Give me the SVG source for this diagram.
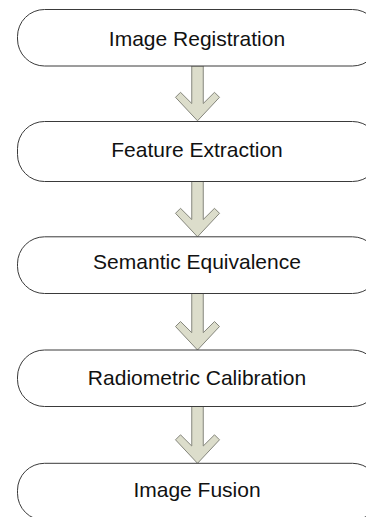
<svg xmlns="http://www.w3.org/2000/svg" width="366" height="517" viewBox="0 0 366 517">
<style>
.box{fill:#ffffff;stroke:#3a3a3a;stroke-width:1}
.lbl{font-family:"Liberation Sans",Arial,sans-serif;font-size:21px;fill:#111111;text-anchor:middle}
.arr{fill:#dcddcb;stroke:#85867c;stroke-width:1;stroke-linejoin:miter}
</style>
<rect width="366" height="517" fill="#ffffff"/>
<g id="connectors">
<polygon class="arr" points="191.75,66 203.25,66 203.25,103.5 214.5,92.3 219.5,97.3 197.5,120.8 175.5,97.3 180.5,92.3 191.75,103.5"/>
<polygon class="arr" points="191.75,181.5 203.25,181.5 203.25,219.5 214.5,208.3 219.5,213.3 197.5,236.8 175.5,213.3 180.5,208.3 191.75,219.5"/>
<polygon class="arr" points="191.75,293.5 203.25,293.5 203.25,332.7 214.5,321.5 219.5,326.5 197.5,350 175.5,326.5 180.5,321.5 191.75,332.7"/>
<polygon class="arr" points="191.75,406.5 203.25,406.5 203.25,446 214.5,434.8 219.5,439.8 197.5,463.3 175.5,439.8 180.5,434.8 191.75,446"/>
</g>
<g id="n1"><rect class="box" x="17.5" y="9.5" width="362" height="56.5" rx="27" ry="27"/><text class="lbl" x="197" y="46">Image Registration</text></g>
<g id="n2"><rect class="box" x="17.5" y="121.5" width="362" height="60" rx="27" ry="27"/><text class="lbl" x="197" y="157">Feature Extraction</text></g>
<g id="n3"><rect class="box" x="17.5" y="236.8" width="362" height="56.7" rx="27" ry="27"/><text class="lbl" x="197" y="268.5">Semantic Equivalence</text></g>
<g id="n4"><rect class="box" x="17.5" y="350" width="362" height="56.5" rx="27" ry="27"/><text class="lbl" x="197" y="384.5">Radiometric Calibration</text></g>
<g id="n5"><rect class="box" x="17.5" y="463.3" width="362" height="57" rx="27" ry="27"/><text class="lbl" x="197" y="497">Image Fusion</text></g>
</svg>
